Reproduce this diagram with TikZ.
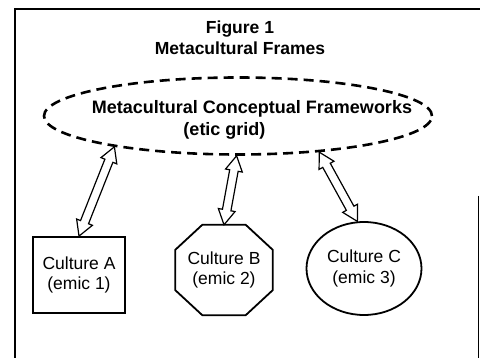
\documentclass[tikz,border=0pt]{standalone}
\usepackage{fontspec}
\setmainfont{Liberation Sans}
\usetikzlibrary{calc,shapes.geometric}
\newcommand{\ahead}{15pt}
\newcommand{\awide}{8.5pt}
\newcommand{\ashaft}{4.3pt}
\begin{document}
\begin{tikzpicture}[x=1pt,y=-1pt,
	txt/.style={font=\fontsize{17.5}{20.5}\selectfont, align=center, inner sep=0pt},
	culture/.style={txt, draw, line width=1.8pt},
	hollow/.style={draw, fill=white, line width=1.2pt, line join=miter,
		to path={
		-- ($(\tikztostart)!\ahead!(\tikztotarget)!\awide!90:(\tikztotarget)$)
		-- ($(\tikztostart)!\ahead!(\tikztotarget)!\ashaft!90:(\tikztotarget)$)
		-- ($(\tikztotarget)!\ahead!(\tikztostart)!\ashaft!-90:(\tikztostart)$)
		-- ($(\tikztotarget)!\ahead!(\tikztostart)!\awide!-90:(\tikztostart)$)
		-- (\tikztotarget)
		-- ($(\tikztotarget)!\ahead!(\tikztostart)!\awide!90:(\tikztostart)$)
		-- ($(\tikztotarget)!\ahead!(\tikztostart)!\ashaft!90:(\tikztostart)$)
		-- ($(\tikztostart)!\ahead!(\tikztotarget)!\ashaft!-90:(\tikztotarget)$)
		-- ($(\tikztostart)!\ahead!(\tikztotarget)!\awide!-90:(\tikztotarget)$)
		-- cycle}}]
	\useasboundingbox (0,0) rectangle (480,358);
	% frame
	\draw[line width=1.8pt] (15,358) |- (480,9);
	\draw[line width=0.8pt] (478,196) -- (478,358);
	% title
	\node[txt, font=\bfseries\fontsize{17.5}{21}\selectfont] (title) at (240,38) {Figure 1\\Metacultural Frames};
	% etic grid
	\node[ellipse, draw, dashed, dash pattern=on 10pt off 6pt, line width=2.6pt,
		minimum width=388pt, minimum height=77pt, inner sep=0pt] (meta) at (238,116) {};
	\node[txt, font=\bfseries\fontsize{18}{22}\selectfont] (metatxt) at (252,120)
		{Metacultural Conceptual Frameworks\\\hspace*{-55pt}(etic grid)};
	% emic cultures
	\node[culture, rectangle, minimum width=92pt, minimum height=76pt] (cA) at (79,275) {Culture A\\(emic 1)};
	\node[txt, minimum width=97pt, minimum height=90pt] (cB) at (224,270) {Culture B\\(emic 2)};
	\draw[line width=1.8pt] ($(cB.north west)+(27,0)$) -- ($(cB.north east)+(-27,0)$)
		-- ($(cB.north east)+(0,25)$) -- ($(cB.south east)+(0,-25)$)
		-- ($(cB.south east)+(-27,0)$) -- ($(cB.south west)+(27,0)$)
		-- ($(cB.south west)+(0,-25)$) -- ($(cB.north west)+(0,25)$) -- cycle;
	\node[culture, ellipse, minimum width=115pt, minimum height=93pt] (cC) at (364,268.5) {Culture C\\(emic 3)};
	% links
	\draw[hollow] (meta.194) to (cA.north);
	\draw[hollow] (meta.268) to (cB.north);
	\draw[hollow] (meta.336) to (cC.98);
\end{tikzpicture}
\end{document}
